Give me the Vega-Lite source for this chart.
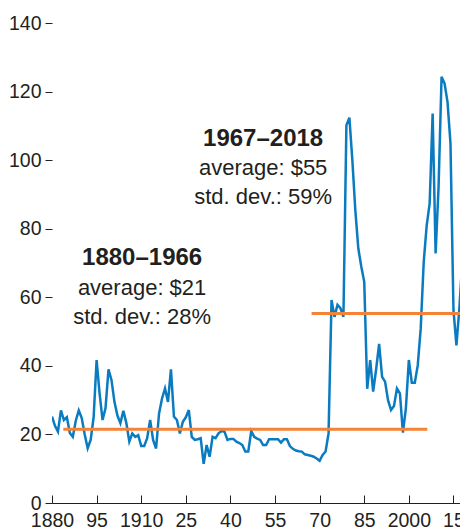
{
  "$schema": "https://vega.github.io/schema/vega-lite/v6.json",
  "width": 408,
  "height": 480,
  "autosize": {"type": "none"},
  "padding": {"left": 52, "top": 23, "right": 0, "bottom": 29},
  "config": {"view": {"stroke": null}, "font": "Liberation Sans"},
  "datasets": {
    "price": [
      {"year":1880,"price":25.2},{"year":1881,"price":22.5},{"year":1882,"price":20.8},{"year":1883,"price":27.0},{"year":1884,"price":24.2},
      {"year":1885,"price":25.0},{"year":1886,"price":20.4},{"year":1887,"price":19.3},{"year":1888,"price":24.0},{"year":1889,"price":27.0},
      {"year":1890,"price":24.8},{"year":1891,"price":20.0},{"year":1892,"price":16.0},{"year":1893,"price":18.4},{"year":1894,"price":25.0},
      {"year":1895,"price":41.7},{"year":1896,"price":32.0},{"year":1897,"price":24.2},{"year":1898,"price":27.7},{"year":1899,"price":39.0},
      {"year":1900,"price":35.9},{"year":1901,"price":29.5},{"year":1902,"price":25.5},{"year":1903,"price":23.3},{"year":1904,"price":26.9},
      {"year":1905,"price":23.3},{"year":1906,"price":17.9},{"year":1907,"price":20.3},{"year":1908,"price":19.3},{"year":1909,"price":19.8},
      {"year":1910,"price":16.6},{"year":1911,"price":16.6},{"year":1912,"price":18.9},{"year":1913,"price":24.2},{"year":1914,"price":18.4},
      {"year":1915,"price":15.9},{"year":1916,"price":26.1},{"year":1917,"price":30.5},{"year":1918,"price":33.4},{"year":1919,"price":29.5},
      {"year":1920,"price":39.0},{"year":1921,"price":25.2},{"year":1922,"price":24.2},{"year":1923,"price":20.3},{"year":1924,"price":23.7},
      {"year":1925,"price":25.0},{"year":1926,"price":27.1},{"year":1927,"price":19.3},{"year":1928,"price":18.4},{"year":1929,"price":18.6},
      {"year":1930,"price":18.9},{"year":1931,"price":11.4},{"year":1932,"price":16.9},{"year":1933,"price":13.5},{"year":1934,"price":19.3},
      {"year":1935,"price":18.9},{"year":1936,"price":20.3},{"year":1937,"price":21.0},{"year":1938,"price":20.8},{"year":1939,"price":18.4},
      {"year":1940,"price":18.7},{"year":1941,"price":18.7},{"year":1942,"price":17.9},{"year":1943,"price":17.5},{"year":1944,"price":16.9},
      {"year":1945,"price":15.0},{"year":1946,"price":15.0},{"year":1947,"price":21.0},{"year":1948,"price":19.3},{"year":1949,"price":18.8},
      {"year":1950,"price":18.4},{"year":1951,"price":16.9},{"year":1952,"price":16.9},{"year":1953,"price":18.6},{"year":1954,"price":18.6},
      {"year":1955,"price":18.6},{"year":1956,"price":18.6},{"year":1957,"price":17.6},{"year":1958,"price":18.6},{"year":1959,"price":18.6},
      {"year":1960,"price":16.6},{"year":1961,"price":15.8},{"year":1962,"price":15.3},{"year":1963,"price":15.1},{"year":1964,"price":15.0},
      {"year":1965,"price":14.2},{"year":1966,"price":14.0},{"year":1967,"price":13.8},{"year":1968,"price":13.5},{"year":1969,"price":13.0},
      {"year":1970,"price":12.3},{"year":1971,"price":14.0},{"year":1972,"price":15.0},{"year":1973,"price":20.3},{"year":1974,"price":59.2},
      {"year":1975,"price":54.3},{"year":1976,"price":57.8},{"year":1977,"price":56.8},{"year":1978,"price":54.3},{"year":1979,"price":110.2},
      {"year":1980,"price":112.4},{"year":1981,"price":100.0},{"year":1982,"price":85.4},{"year":1983,"price":74.3},{"year":1984,"price":69.0},
      {"year":1985,"price":64.5},{"year":1986,"price":33.3},{"year":1987,"price":41.7},{"year":1988,"price":32.5},{"year":1989,"price":39.0},
      {"year":1990,"price":46.4},{"year":1991,"price":36.8},{"year":1992,"price":35.4},{"year":1993,"price":30.0},{"year":1994,"price":27.1},
      {"year":1995,"price":28.3},{"year":1996,"price":33.4},{"year":1997,"price":32.0},{"year":1998,"price":20.5},{"year":1999,"price":27.6},
      {"year":2000,"price":41.7},{"year":2001,"price":35.1},{"year":2002,"price":35.1},{"year":2003,"price":40.2},{"year":2004,"price":51.0},
      {"year":2005,"price":70.3},{"year":2006,"price":81.0},{"year":2007,"price":87.4},{"year":2008,"price":113.6},{"year":2009,"price":72.8},
      {"year":2010,"price":92.3},{"year":2011,"price":124.3},{"year":2012,"price":122.4},{"year":2013,"price":117.0},{"year":2014,"price":104.9},
      {"year":2015,"price":56.3},{"year":2016,"price":46.0},{"year":2017,"price":57.0},{"year":2018,"price":71.0}
    ],
    "averages": [
      {"from":1883.8,"to":2006.2,"avg":21.5},
      {"from":1967.3,"to":2018,"avg":55.3}
    ],
    "notes": [
      {"year":1910.3,"value":69.4,"label":"1880–1966","kind":"period"},
      {"year":1910.3,"value":60.6,"label":"average: $21","kind":"stat"},
      {"year":1910.3,"value":52.2,"label":"std. dev.: 28%","kind":"stat"},
      {"year":1951,"value":104.1,"label":"1967–2018","kind":"period"},
      {"year":1951,"value":95.6,"label":"average: $55","kind":"stat"},
      {"year":1951,"value":87.2,"label":"std. dev.: 59%","kind":"stat"}
    ]
  },
  "layer": [
    {
      "data": {"name": "price"},
      "mark": {"type": "line", "color": "#0A7BC0", "strokeWidth": 2.5, "clip": true},
      "encoding": {
        "x": {"field": "year", "type": "quantitative",
              "scale": {"domain": [1880, 2017.2], "nice": false, "zero": false},
              "axis": {"title": null, "grid": false,
                       "values": [1880,1895,1910,1925,1940,1955,1970,1985,2000,2015],
                       "labelExpr": "datum.value == 1880 || floor(datum.value/100) != floor((datum.value-15)/100) ? '' + datum.value : substring('' + datum.value, 2)",
                       "tickSize": -8, "labelPadding": 16, "labelFontSize": 19.5,
                       "labelColor": "#231F20", "domainColor": "#231F20", "tickColor": "#231F20",
                       "labelFlush": false, "labelOverlap": false}},
        "y": {"field": "price", "type": "quantitative",
              "scale": {"domain": [0, 140], "nice": false},
              "axis": {"title": null, "grid": false, "domain": false,
                       "values": [0,20,40,60,80,100,120,140],
                       "tickSize": 7, "labelPadding": 4, "labelFontSize": 19.5,
                       "labelColor": "#231F20", "tickColor": "#231F20"}}
      }
    },
    {
      "data": {"name": "averages"},
      "mark": {"type": "rule", "color": "#F58235", "strokeWidth": 3, "clip": true},
      "encoding": {
        "x": {"field": "from", "type": "quantitative"},
        "x2": {"field": "to"},
        "y": {"field": "avg", "type": "quantitative"}
      }
    },
    {
      "data": {"name": "notes"},
      "transform": [{"filter": "datum.kind == 'period'"}],
      "mark": {"type": "text", "fontSize": 24, "fontWeight": "bold", "color": "#231F20", "align": "center", "baseline": "alphabetic"},
      "encoding": {
        "x": {"field": "year", "type": "quantitative"},
        "y": {"field": "value", "type": "quantitative"},
        "text": {"field": "label"}
      }
    },
    {
      "data": {"name": "notes"},
      "transform": [{"filter": "datum.kind == 'stat'"}],
      "mark": {"type": "text", "fontSize": 22, "color": "#231F20", "align": "center", "baseline": "alphabetic"},
      "encoding": {
        "x": {"field": "year", "type": "quantitative"},
        "y": {"field": "value", "type": "quantitative"},
        "text": {"field": "label"}
      }
    }
  ]
}
